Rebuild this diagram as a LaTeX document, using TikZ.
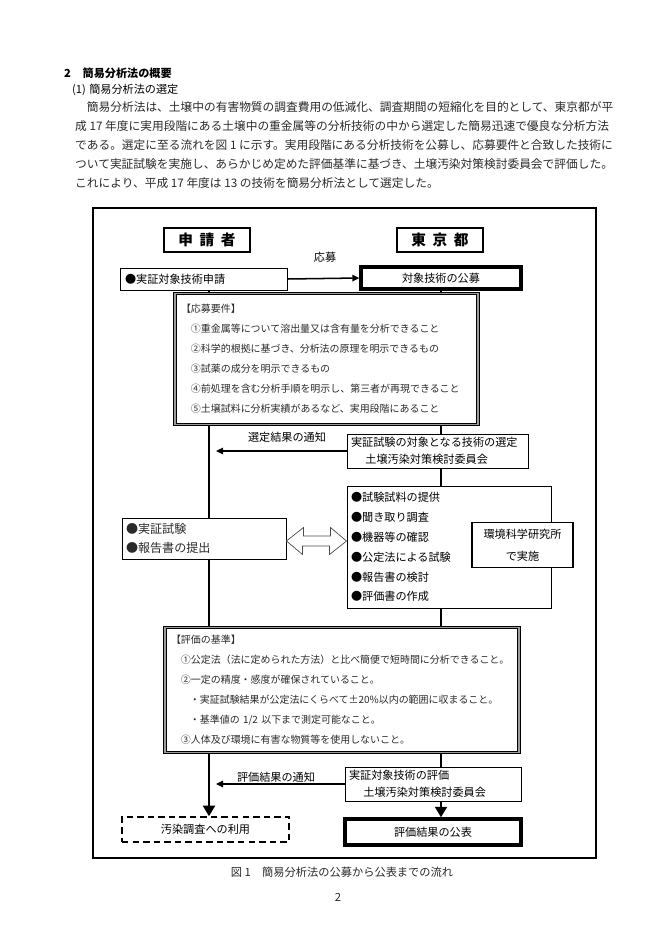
\documentclass[tikz,border=0pt]{standalone}
\usepackage{fontspec}
\setmainfont{Noto Sans CJK JP}
\usetikzlibrary{arrows.meta,positioning,calc,backgrounds}
\definecolor{ink}{HTML}{000000}
\definecolor{minink}{HTML}{2A2A2A}
\definecolor{band}{HTML}{9C9C9C}
\newcommand{\pxu}{0.03cm}
\tikzset{
  % ---- page text -------------------------------------------------
  headtxt/.style  = {anchor=west, inner sep=0pt, text=ink,
                     font=\fontsize{9.5}{10}\selectfont\bfseries},
  bodytxt/.style  = {anchor=west, inner sep=0pt, text=minink,
                     font=\fontsize{10}{10}\selectfont},
  captxt/.style   = {inner sep=0pt, text=minink,
                     font=\fontsize{9.6}{10}\selectfont},
  % ---- boxes -----------------------------------------------------
  boxsize/.style 2 args = {minimum width=#1*\pxu, minimum height=#2*\pxu},
  rolebox/.style  = {draw=ink, fill=white, line width=1.6pt, inner sep=0pt,
                     font=\fontsize{12.5}{13}\selectfont\bfseries},
  plainbox/.style = {draw=ink, fill=white, line width=0.8pt, inner sep=0pt,
                     font=\fontsize{9.5}{10}\selectfont},
  heavybox/.style = {plainbox, line width=2.8pt},
  dashbox/.style  = {plainbox, line width=1.3pt,
                     dash pattern=on 5.5pt off 3.5pt},
  leftbox/.style  = {plainbox, align=left, inner xsep=3pt},
  dblbox/.style   = {draw=ink, double=band, double distance=1.5pt,
                     line width=0.7pt, fill=white, align=left,
                     inner xsep=5pt, inner ysep=0pt, text=minink},
  % ---- connectors ------------------------------------------------
  flow/.style     = {draw=ink, line width=2.4pt},
  flowend/.style  = {flow, -{Triangle[length=9pt, width=10pt]}},
  notice/.style   = {draw=ink, line width=1.3pt,
                     -{Triangle[length=6pt, width=5.5pt]}},
  exch/.style     = {draw=black!70, fill=white, line width=0.6pt,
                     line join=miter},
  lab/.style      = {inner sep=0pt, font=\fontsize{9.5}{10}\selectfont},
}

\begin{document}
\begin{tikzpicture}[x=0.03cm, y=-0.03cm]
  \useasboundingbox (0,0) rectangle (662,936);

  % section heading and paragraph
  \node[headtxt] (sec) at (64,73) {2\hspace{1.05em}簡易分析法の概要};
  \node[headtxt, font=\fontsize{9.5}{10}\selectfont] (subsec) at (72,90) {(1)\hspace{0.3em}簡易分析法の選定};
  \node[bodytxt] (para1) at (75,107) {　簡易分析法は、土壌中の有害物質の調査費用の低減化、調査期間の短縮化を目的として、東京都が平};
  \node[bodytxt] (para2) at (75,126) {成 17 年度に実用段階にある土壌中の重金属等の分析技術の中から選定した簡易迅速で優良な分析方法};
  \node[bodytxt] (para3) at (75,145) {である。選定に至る流れを図 1 に示す。実用段階にある分析技術を公募し、応募要件と合致した技術に};
  \node[bodytxt] (para4) at (75,164) {ついて実証試験を実施し、あらかじめ定めた評価基準に基づき、土壌汚染対策検討委員会で評価した。};
  \node[bodytxt] (para5) at (75,183) {これにより、平成 17 年度は 13 の技術を簡易分析法として選定した。};

  % figure frame
  \draw[ink, line width=0.9pt] (93,208) rectangle (596,858);

  \coordinate (lx) at (209,0);
  \coordinate (lxtip) at (216,0);
  \coordinate (rx) at (441,0);

  \node[rolebox, boxsize={86}{24}] (shinsei) at (207,240) {申\hspace{0.45em}請\hspace{0.45em}者};
  \node[rolebox, boxsize={86}{24}] (tokyo) at (440,240) {東\hspace{0.45em}京\hspace{0.45em}都};

  \node[leftbox, boxsize={167}{22}, text width=157*\pxu] (apply) at (203.5,279) {●実証対象技術申請};
  \node[heavybox, boxsize={160}{22}] (koubo) at (441,278) {対象技術の公募};
  \draw[notice] (apply.east) -- (koubo.west);
  \node[lab] (oubolab) at (325,257) {応募};

  \node[dblbox, boxsize={303}{131}, text width=291*\pxu,
        font=\fontsize{8.5}{17}\selectfont] (youken) at (326.5,359) {%
    【応募要件】\\
    \hspace*{1em}①重金属等について溶出量又は含有量を分析できること\\
    \hspace*{1em}②科学的根拠に基づき、分析法の原理を明示できるもの\\
    \hspace*{1em}③試薬の成分を明示できるもの\\
    \hspace*{1em}④前処理を含む分析手順を明示し、第三者が再現できること\\
    \hspace*{1em}⑤土壌試料に分析実績があるなど、実用段階にあること};

  \node[leftbox, boxsize={181}{34}, text width=173*\pxu,
        font=\fontsize{9.5}{14.5}\selectfont] (sentei) at (437.5,451) {%
    実証試験の対象となる技術の選定\\
    \hspace*{1.3em}土壌汚染対策検討委員会};
  \draw[notice] (sentei.west) -- (sentei.west -| lxtip);
  \node[lab] (senteilab) at (287,437) {選定結果の通知};

  \node[leftbox, boxsize={204}{122}, text width=196*\pxu,
        font=\fontsize{9.5}{17}\selectfont] (tests) at (449,547) {%
    ●試験試料の提供\\
    ●聞き取り調査\\
    ●機器等の確認\\
    ●公定法による試験\\
    ●報告書の検討\\
    ●評価書の作成};
  \node[plainbox, line width=1.2pt, boxsize={101}{45}, align=center,
        font=\fontsize{9.5}{18.5}\selectfont] (kankyo) at (522.5,545) {%
    環境科学研究所\\で実施};

  \node[leftbox, boxsize={164}{41}, text width=156*\pxu, text=minink,
        font=\fontsize{10.3}{17}\selectfont] (jissho) at (204,538.5) {%
    ●実証試験\\
    ●報告書の提出};
  % hollow two-way arrow between the two boxes
  \coordinate (xc) at ($(jissho.east)!0.5!(tests.west)$);
  \draw[exch] (jissho.east |- 0,541) -- ++(17,-13.5) -- ++(0,8.5) -- ++(27,0)
    -- ++(0,-8.5) -- (tests.west |- 0,541) -- ++(-17,13.5) -- ++(0,-8.5)
    -- ++(-27,0) -- ++(0,8.5) -- cycle;

  \node[dblbox, boxsize={354}{125}, text width=342*\pxu,
        font=\fontsize{8.5}{17}\selectfont] (kijun) at (342,690) {%
    【評価の基準】\\
    \hspace*{1em}①公定法（法に定められた方法）と比べ簡便で短時間に分析できること。\\
    \hspace*{1em}②一定の精度・感度が確保されていること。\\
    \hspace*{1.9em}・実証試験結果が公定法にくらべて±20\%以内の範囲に収まること。\\
    \hspace*{1.9em}・基準値の 1/2 以下まで測定可能なこと。\\
    \hspace*{1em}③人体及び環境に有害な物質等を使用しないこと。};

  \node[leftbox, boxsize={176}{34}, text width=168*\pxu,
        font=\fontsize{9.5}{14.5}\selectfont] (hyouka) at (433,784) {%
    実証対象技術の評価\\
    \hspace*{1.3em}土壌汚染対策検討委員会};
  \draw[notice] (hyouka.west) -- (hyouka.west -| lxtip);
  \node[lab] (hyoukalab) at (276,777) {評価結果の通知};

  \node[dashbox, boxsize={167}{25}] (osen) at (205.5,829.5) {汚染調査への利用};
  \node[heavybox, boxsize={176}{26}] (kouhyou) at (433,832) {評価結果の公表};
  \draw[flowend] (hyouka.south -| rx) -- (kouhyou.north -| rx);

  % trunk lines run behind the boxes
  \begin{scope}[on background layer]
    \fill[white] (0,0) rectangle (662,936);
    \draw[flowend] (apply.south -| lx) -- (osen.north -| lx);
    \draw[flow] (koubo.south -| rx) -- (hyouka.north -| rx);
  \end{scope}

  \node[captxt] (caption) at (342,872) {図 1\hspace{1em}簡易分析法の公募から公表までの流れ};
  \node[captxt] (pageno) at (338,897) {2};
\end{tikzpicture}
\end{document}
